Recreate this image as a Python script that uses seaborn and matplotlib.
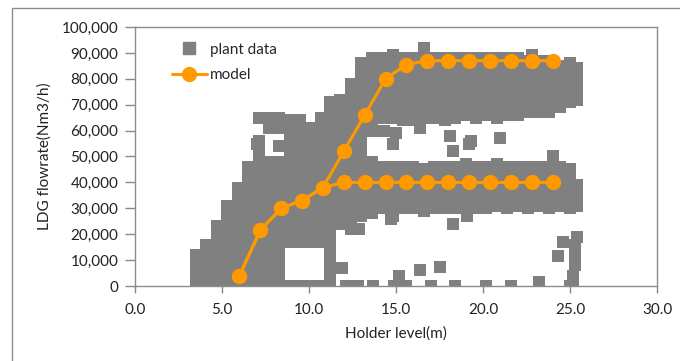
import matplotlib
matplotlib.use("Agg")
import matplotlib.pyplot as plt
import seaborn as sns
import pandas as pd
from matplotlib.lines import Line2D
from matplotlib.patches import Rectangle
from matplotlib.ticker import FuncFormatter, MultipleLocator

# plant data (flow in 1000 Nm3/h)
plant_level_cols = [3.5, 4.1, 4.7, 5.3, 5.9, 6.5, 7.1, 7.7, 8.3, 8.9, 9.5, 10.1, 10.7,
                    11.2, 11.8, 12.4, 13.0, 13.6, 14.2, 14.8, 15.4, 16.0, 16.6, 17.2,
                    17.8, 18.4, 19.0, 19.6, 20.2, 20.8, 21.4, 22.0, 22.6, 23.2, 23.8,
                    24.4, 25.0, 25.4]
plant_flow_cols = [
    [0, 4, 8, 12],
    [0, 4, 8, 12, 16],
    [0, 4, 8, 12, 16, 20, 23],
    [0, 4, 8, 12, 16, 20, 24, 28, 31],
    [0, 4, 8, 12, 16, 20, 24, 28, 32, 35, 38],
    [0, 4, 8, 12, 16, 20, 24, 28, 32, 36, 40, 43, 46],
    [0, 4, 8, 12, 16, 20, 24, 28, 32, 36, 40, 44, 48, 52, 56, 65],
    [0, 4, 8, 12, 16, 20, 24, 28, 32, 36, 40, 44, 48, 61, 65],
    [0, 4, 8, 12, 16, 20, 24, 28, 32, 36, 40, 44, 48, 54, 61, 65],
    [0, 17, 21, 25, 29, 33, 37, 41, 45, 49, 53, 57, 61, 64],
    [0, 17, 21, 25, 29, 33, 37, 41, 45, 49, 53, 57, 61, 64],
    [0, 17, 21, 25, 29, 33, 37, 41, 45, 49, 53, 57, 61],
    [0, 17, 21, 25, 29, 33, 37, 41, 45, 49, 53, 57, 61, 65],
    [0, 4, 8, 12, 16, 20, 24, 28, 32, 36, 40, 44, 48, 52, 56, 60, 64, 68, 71],
    [24, 28, 32, 36, 40, 44, 48, 52, 56, 60, 64, 68, 72],
    [22, 26, 30, 34, 38, 42, 46, 50, 54, 58, 62, 66, 70, 74, 78],
    [27, 31, 35, 39, 43, 47, 51, 55, 59, 63, 67, 71, 75, 79, 83, 86],
    [28, 32, 36, 40, 44, 48, 60, 64, 68, 72, 76, 80, 84, 88],
    [30, 34, 38, 42, 46, 65, 69, 73, 77, 81, 85, 88],
    [27, 30, 34, 38, 42, 46, 65, 69, 73, 77, 81, 85, 89],
    [30, 34, 38, 42, 46, 64, 68, 72, 76, 80, 84, 88],
    [30, 34, 38, 42, 46, 64, 68, 72, 76, 80, 84, 88],
    [29, 33, 37, 41, 45, 65, 69, 73, 77, 81, 85, 88],
    [30, 34, 38, 42, 46, 65, 69, 73, 77, 81, 85, 88],
    [30, 34, 38, 42, 46, 64, 68, 72, 76, 80, 84, 88],
    [30, 34, 38, 42, 46, 65, 69, 73, 77, 81, 85, 88],
    [31, 35, 39, 43, 47, 66, 70, 74, 78, 82, 86, 88],
    [30, 34, 38, 42, 46, 65, 69, 73, 77, 81, 85, 88],
    [30, 34, 38, 42, 46, 66, 70, 74, 78, 82, 86, 88],
    [31, 35, 39, 43, 47, 65, 69, 73, 77, 81, 85, 88],
    [30, 34, 38, 42, 46, 66, 70, 74, 78, 82, 86, 88],
    [31, 35, 39, 43, 46, 66, 70, 74, 78, 82, 86, 88],
    [30, 34, 38, 42, 46, 67, 71, 75, 79, 83, 87],
    [31, 35, 39, 43, 46, 67, 71, 75, 79, 83, 87],
    [30, 34, 38, 42, 46, 67, 71, 75, 79, 83, 87],
    [31, 35, 39, 43, 46, 69, 73, 77, 81, 85],
    [30, 34, 38, 42, 45, 71, 75, 79, 83, 86],
    [31, 35, 39, 72, 76, 80, 84],
]

# scattered single points
plant_extra_level = [16.6, 22.8, 14.3, 15.0, 16.4, 18.1, 18.3, 19.2, 21.0, 24.0, 14.8, 19.3,
                     12.9, 14.7, 18.3, 19.1, 24.3, 24.6, 25.2, 25.2, 25.3, 25.3, 25.3, 25.4,
                     12.1, 12.8, 13.7, 14.9, 15.6, 17.0, 18.4, 20.2, 21.6, 23.2, 25.0,
                     15.2, 16.4, 17.5, 11.9, 6.5, 7.0]
plant_extra_flow = [92, 89, 60, 59, 61, 58, 52, 55, 57, 50, 55, 56,
                    22, 26, 24, 27, 11.5, 17, 0, 4, 8, 12, 16, 19,
                    0, 0, 0, 0, 0, 0, 0, 0, 0, 1.5, 0,
                    4, 6, 7.5, 7, 46, 55]

# model
model_level = [6.0, 7.2, 8.4, 9.6, 10.8, 12.0, 13.2, 14.4, 15.6, 16.8, 18.0, 19.2,
               20.4, 21.6, 22.8, 24.0]
model_high = [4, 21.5, 30, 33, 38, 52, 66, 80, 85.5, 87, 87, 87, 87, 87, 87, 87]
model_low = [4, 21.5, 30, 33, 38, 40, 40, 40, 40, 40, 40, 40, 40, 40, 40, 40]

grey = "#808080"
orange = "#FF9900"

sns.set_theme(style="white")
plt.rcParams["font.family"] = ["Lato", "DejaVu Sans"]

rows = []
for x, ys in zip(plant_level_cols, plant_flow_cols):
    for y in ys:
        rows.append((x, y * 1000))
for x, y in zip(plant_extra_level, plant_extra_flow):
    rows.append((x, y * 1000))
plant = pd.DataFrame(rows, columns=["level", "flow"])

fig = plt.figure(figsize=(6.8, 3.61), dpi=100)
ax = fig.add_axes([135 / 680, 1 - 286 / 361, 522 / 680, 259 / 361])

sns.scatterplot(data=plant, x="level", y="flow", marker="s", s=85, color=grey,
                linewidth=0, ax=ax, legend=False, zorder=2)

for ys in (model_low, model_high):
    sns.lineplot(x=model_level, y=[v * 1000 for v in ys], color=orange, lw=2.2,
                 marker="o", markersize=11, markeredgewidth=0, estimator=None,
                 sort=False, ax=ax, zorder=3)

ax.set_xlim(0, 30)
ax.set_ylim(0, 100000)
ax.xaxis.set_major_locator(MultipleLocator(5))
ax.yaxis.set_major_locator(MultipleLocator(10000))
ax.xaxis.set_major_formatter(FuncFormatter(lambda v, p: f"{v:.1f}"))
ax.yaxis.set_major_formatter(FuncFormatter(lambda v, p: f"{v:,.0f}"))
ax.tick_params(axis="both", labelsize=11, colors="#888888", labelcolor="#222222",
               length=5, width=1, direction="out")
ax.tick_params(axis="y", length=7, pad=5)
ax.tick_params(axis="x", pad=7)
ax.tick_params(left=True, bottom=True)
for s in ax.spines.values():
    s.set_color("#8c8c8c")
    s.set_linewidth(1)

ax.set_xlabel("Holder level(m)", fontsize=11, color="#222222", labelpad=7)
ax.set_ylabel("LDG flowrate(Nm3/h)", fontsize=11, color="#222222", labelpad=7)

handles = [
    Line2D([], [], ls="none", marker="s", markersize=9, color=grey),
    Line2D([], [], color=orange, lw=2.2, marker="o", markersize=11, markeredgewidth=0),
]
ax.legend(handles, ["plant data", "model"], loc="upper left",
          bbox_to_anchor=(0.07, 0.94), frameon=False, fontsize=11,
          handlelength=2.3, handletextpad=0.2, labelspacing=0.75,
          borderpad=0, borderaxespad=0)

# outer chart border
fig.patches.append(Rectangle((12 / 680, -0.1), 1.2, 1.1 - 8 / 361, fill=False,
                             edgecolor="#8c8c8c", lw=1, transform=fig.transFigure))

fig.savefig("out.png", dpi=100)
